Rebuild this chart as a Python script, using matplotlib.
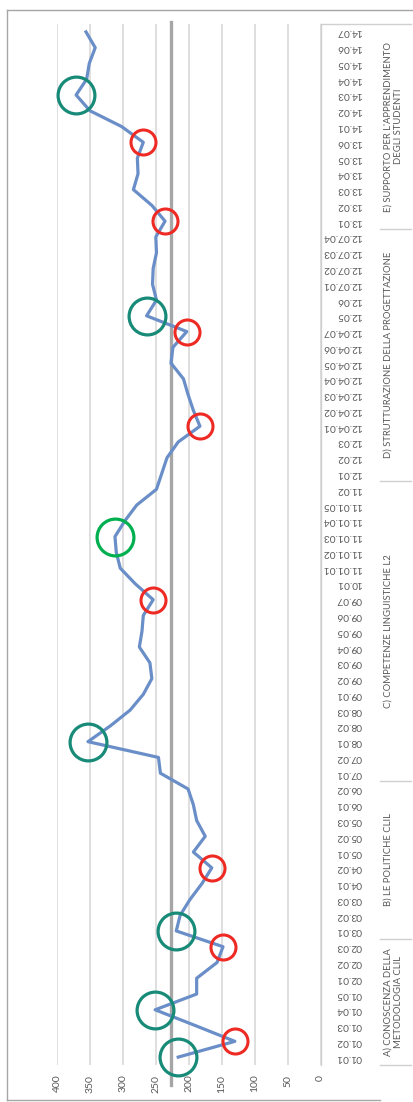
import matplotlib
matplotlib.use('Agg')
import matplotlib.pyplot as plt
import matplotlib.transforms as mtransforms
from matplotlib.lines import Line2D

plt.rcParams['font.family'] = ['Lato', 'DejaVu Sans']

# category labels (bottom -> top in the rotated picture)
cat_labels = [
    '01.01', '01.02', '01.03', '01.04', '01.05', '02.01', '02.02', '02.03',
    '03.01', '03.02', '03.03', '04.01', '04.02', '05.01', '05.02', '05.03', '06.01', '06.02',
    '07.01', '07.02', '08.01', '08.02', '08.03', '09.01', '09.02', '09.03', '09.04', '09.05',
    '09.06', '09.07', '10.01', '11.01.01', '11.01.02', '11.01.03', '11.01.04', '11.01.05', '11.02',
    '12.01', '12.02', '12.03', '12.04.01', '12.04.02', '12.04.03', '12.04.04', '12.04.05',
    '12.04.06', '12.04.07', '12.05', '12.06', '12.07.01', '12.07.02', '12.07.03', '12.07.04',
    '13.01', '13.02', '13.03', '13.04', '13.05', '13.06',
    '14.01', '14.02', '14.03', '14.04', '14.05', '14.06', '14.07',
]
scores = [
    216, 130, 190, 251, 188, 188, 157, 148,
    219, 213, 198, 180, 165, 193, 175, 188, 193, 201,
    243, 246, 353, 319, 289, 269, 256, 259, 275, 271,
    269, 254, 281, 304, 310, 312, 297, 279, 249,
    241, 233, 216, 183, 193, 201, 208, 227,
    224, 203, 264, 249, 255, 254, 249, 250,
    236, 256, 284, 277, 278, 269,
    302, 350, 371, 355, 351, 342, 356,
]
mean_score = 227

# outer level groups: label, first index, last index
group_names = [
    'A) CONOSCENZA DELLA\nMETODOLOGIA CLIL',
    'B) LE POLITICHE CLIL',
    'C) COMPETENZE LINGUISTICHE L2',
    'D) STRUTTURAZIONE DELLA PROGETTAZIONE',
    "E) SUPPORTO PER L'APPRENDIMENTO\nDEGLI STUDENTI",
]
group_first = [0, 8, 18, 37, 53]
group_last = [7, 17, 36, 52, 65]

# highlighted points
teal_idx = [0, 3, 8, 20, 47, 61]
green_idx = [33]
red_idx = [1, 7, 12, 29, 40, 46, 53, 58]

value_ticks = [0, 50, 100, 150, 200, 250, 300, 350, 400]

W, H = 413, 1102
fig = plt.figure(figsize=(W / 100, H / 100), dpi=100)


def fx(px):
    return px / W


def fy(py):
    return 1 - py / H


ax = fig.add_axes([fx(57), fy(1065), fx(320.5) - fx(57), fy(24) - fy(1065)])
pos = list(range(len(cat_labels)))

ax.plot(scores, pos, color='#6a8ec8', lw=2.3, solid_joinstyle='round', zorder=3)

ax.plot([scores[i] for i in teal_idx], teal_idx, 'o', mfc='none', mec='#178a78',
        ms=26.5, mew=2.3, clip_on=False, zorder=4)
ax.plot([scores[i] for i in green_idx], green_idx, 'o', mfc='none', mec='#00b050',
        ms=26.5, mew=2.3, clip_on=False, zorder=4)
ax.plot([scores[i] for i in red_idx], red_idx, 'o', mfc='none', mec='#ee2a24',
        ms=18, mew=2.2, clip_on=False, zorder=4)

ax.axvline(mean_score, ymin=-0.019, ymax=1.002, color='#a6a6a6', lw=2.4,
           clip_on=False, zorder=2)

ax.set_xlim(400, 0)
ax.set_ylim(-0.5, len(cat_labels) - 0.5)
ax.set_xticks(value_ticks)
ax.set_xticklabels([str(v) for v in value_ticks])
ax.grid(axis='x', color='#d9d9d9', lw=1.2)
ax.set_axisbelow(True)
for s in ['top', 'left', 'bottom']:
    ax.spines[s].set_visible(False)
ax.spines['right'].set_color('#d0d0d0')
ax.spines['right'].set_linewidth(1.0)

ax.tick_params(axis='x', length=0, pad=7, labelrotation=90, labelsize=7.5,
               labelcolor='#595959')

ax.yaxis.tick_right()
ax.set_yticks(pos)
ax.set_yticklabels(cat_labels, rotation=180, fontsize=7.3, color='#595959')
ax.tick_params(axis='y', length=0, pad=30)
for lbl in ax.get_yticklabels():
    lbl.set_ha('right')
    lbl.set_va('center')

# group column
trans = mtransforms.blended_transform_factory(ax.transAxes, ax.transData)
x_sep0 = (380 - 57) / 263.5
x_sep1 = (411 - 57) / 263.5
ax.plot([1.0, x_sep1], [len(cat_labels) - 0.5] * 2, color='#d0d0d0', lw=1.0,
        transform=trans, clip_on=False)
for first, last, name in zip(group_first, group_last, group_names):
    ax.plot([x_sep0, x_sep1], [first - 0.5] * 2, color='#d0d0d0', lw=1.0,
            transform=trans, clip_on=False)
    xc = (393 - 57) / 263.5 if '\n' in name else (388 - 57) / 263.5
    ax.text(xc, (first + last) / 2, name, transform=trans, rotation=90,
            ha='center', va='center', multialignment='center', fontsize=6.8,
            color='#595959', linespacing=1.15)

# outer frame
frame = dict(color='#a6a6a6', lw=1.0)
fig.add_artist(Line2D([fx(7), fx(7)], [fy(10), fy(1100)], **frame))
fig.add_artist(Line2D([fx(7), fx(413)], [fy(10), fy(10)], **frame))
fig.add_artist(Line2D([fx(7), fx(380)], [fy(1100), fy(1100)], **frame))

fig.savefig('out.png', dpi=100)
